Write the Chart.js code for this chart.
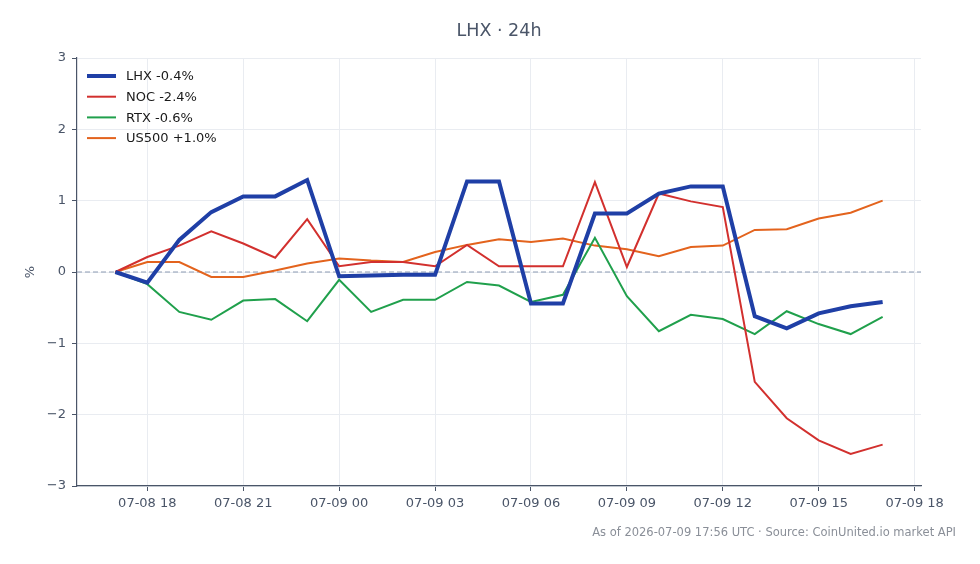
<!DOCTYPE html>
<html>
<head>
<meta charset="utf-8">
<script src="https://cdn.jsdelivr.net/npm/chart.js@4.4.1/dist/chart.umd.min.js"></script>
<style>
    html, body { margin: 0; padding: 0; background: #ffffff; }
    #wrap { width: 980px; height: 564px; position: relative; }
</style>
</head>
<body>
<div id="wrap"><canvas id="LhxChart"></canvas></div>
<script>
// hours since 07-08 00:00 UTC, one point per hour
var hours = [17, 18, 19, 20, 21, 22, 23, 24, 25, 26, 27, 28, 29, 30, 31, 32, 33, 34, 35, 36, 37, 38, 39, 40, 41];
var lhx = [0, -0.15, 0.45, 0.84, 1.06, 1.06, 1.29, -0.06, -0.05, -0.04, -0.04, 1.27, 1.27, -0.44, -0.44, 0.82, 0.82, 1.10, 1.20, 1.20, -0.62, -0.79, -0.58, -0.48, -0.42];
var noc = [0, 0.21, 0.37, 0.57, 0.40, 0.20, 0.74, 0.08, 0.14, 0.14, 0.08, 0.38, 0.08, 0.08, 0.08, 1.26, 0.07, 1.10, 0.99, 0.91, -1.54, -2.05, -2.36, -2.55, -2.42];
var rtx = [0, -0.17, -0.56, -0.67, -0.40, -0.38, -0.69, -0.11, -0.56, -0.39, -0.39, -0.14, -0.19, -0.42, -0.32, 0.48, -0.34, -0.83, -0.60, -0.66, -0.87, -0.55, -0.73, -0.87, -0.63];
var us500 = [0, 0.14, 0.14, -0.07, -0.07, 0.02, 0.12, 0.19, 0.16, 0.14, 0.28, 0.38, 0.46, 0.42, 0.47, 0.37, 0.32, 0.22, 0.35, 0.37, 0.59, 0.60, 0.75, 0.83, 1.00];
var xTicks = [18, 21, 24, 27, 30, 33, 36, 39, 42];
var yTicks = [-3, -2, -1, 0, 1, 2, 3];
var seriesNames = ["LHX -0.4%", "NOC -2.4%", "RTX -0.6%", "US500 +1.0%"];

var axisColor = "#4a5568";
var gridColor = "#e9ecf1";

function toPoints(values) {
    var pts = [];
    for (var i = 0; i < values.length; ++i) {
        pts.push({ x: hours[i], y: values[i] });
    }
    return pts;
}

function hourLabel(h) {
    var day = h >= 24 ? "07-09" : "07-08";
    var hh = h % 24;
    return day + " " + (hh < 10 ? "0" + hh : hh);
}

// title, zero line, legend and footer
var extrasPlugin = {
    id: "extras",
    beforeDatasetsDraw: function (chart) {
        var ctx = chart.ctx;
        var area = chart.chartArea;
        var y0 = chart.scales.y.getPixelForValue(0);
        ctx.save();
        ctx.strokeStyle = "#8d9bb3";
        ctx.lineWidth = 1;
        ctx.setLineDash([5, 3]);
        ctx.beginPath();
        ctx.moveTo(area.left, y0);
        ctx.lineTo(area.right, y0);
        ctx.stroke();
        ctx.restore();
    },
    afterDraw: function (chart) {
        var ctx = chart.ctx;
        var area = chart.chartArea;
        ctx.save();

        ctx.fillStyle = axisColor;
        ctx.font = "17.5px 'DejaVu Sans'";
        ctx.textAlign = "center";
        ctx.textBaseline = "middle";
        ctx.fillText("LHX \u00b7 24h", (area.left + area.right) / 2, 31);

        ctx.fillStyle = "#8a8f98";
        ctx.font = "11.5px 'DejaVu Sans'";
        ctx.textAlign = "right";
        ctx.fillText("As of 2026-07-09 17:56 UTC \u00b7 Source: CoinUnited.io market API", 956, 533);

        ctx.font = "13px 'DejaVu Sans'";
        ctx.textAlign = "left";
        for (var i = 0; i < chart.data.datasets.length; ++i) {
            var ds = chart.data.datasets[i];
            var ly = 76 + i * 20.7;
            ctx.strokeStyle = ds.borderColor;
            ctx.lineWidth = ds.borderWidth;
            ctx.beginPath();
            ctx.moveTo(87, ly);
            ctx.lineTo(116, ly);
            ctx.stroke();
            ctx.fillStyle = "#1a1a1a";
            ctx.fillText(seriesNames[i], 126, ly + 1);
        }
        ctx.restore();
    }
};

const data = {
    datasets: [{
        label: seriesNames[0],
        data: toPoints(lhx),
        borderColor: "#1f3fa6",
        borderWidth: 4,
        order: 0
    }, {
        label: seriesNames[1],
        data: toPoints(noc),
        borderColor: "#d2302e",
        borderWidth: 2,
        order: 1
    }, {
        label: seriesNames[2],
        data: toPoints(rtx),
        borderColor: "#20a04c",
        borderWidth: 2,
        order: 2
    }, {
        label: seriesNames[3],
        data: toPoints(us500),
        borderColor: "#e3631d",
        borderWidth: 2,
        order: 3
    }]
};

const config = {
    type: "line",
    data: data,
    plugins: [extrasPlugin],
    options: {
        responsive: false,
        animation: false,
        layout: { padding: { top: 58, right: 59, left: 0, bottom: 0 } },
        elements: {
            point: { radius: 0 },
            line: { tension: 0, borderJoinStyle: "miter", fill: false }
        },
        plugins: {
            legend: { display: false },
            title: { display: false },
            tooltip: { enabled: false }
        },
        scales: {
            x: {
                type: "linear",
                min: 15.8,
                max: 42.2,
                afterBuildTicks: function (scale) {
                    scale.ticks = xTicks.map(function (v) { return { value: v }; });
                },
                afterFit: function (scale) { scale.height = 78; },
                grid: { color: gridColor, tickColor: axisColor, tickLength: 5, drawTicks: true },
                border: { color: axisColor, width: 1.2 },
                ticks: {
                    color: axisColor,
                    font: { family: "DejaVu Sans", size: 13 },
                    maxRotation: 0,
                    padding: 5,
                    autoSkip: false,
                    callback: function (v) { return hourLabel(v); }
                }
            },
            y: {
                min: -3,
                max: 3,
                afterBuildTicks: function (scale) {
                    scale.ticks = yTicks.map(function (v) { return { value: v }; });
                },
                afterFit: function (scale) { scale.width = 77; },
                grid: { color: gridColor, tickColor: axisColor, tickLength: 5 },
                border: { color: axisColor, width: 1.2 },
                title: {
                    display: true,
                    text: "%",
                    color: axisColor,
                    font: { family: "DejaVu Sans", size: 13 },
                    padding: { top: 23, bottom: 0 }
                },
                ticks: {
                    color: axisColor,
                    font: { family: "DejaVu Sans", size: 13 },
                    padding: 6,
                    callback: function (v) { return v < 0 ? "\u2212" + Math.abs(v) : String(v); }
                }
            }
        }
    }
};

var canvas = document.getElementById("LhxChart");
canvas.width = 980;
canvas.height = 564;
var myChart = new Chart(canvas, config);
</script>
</body>
</html>
